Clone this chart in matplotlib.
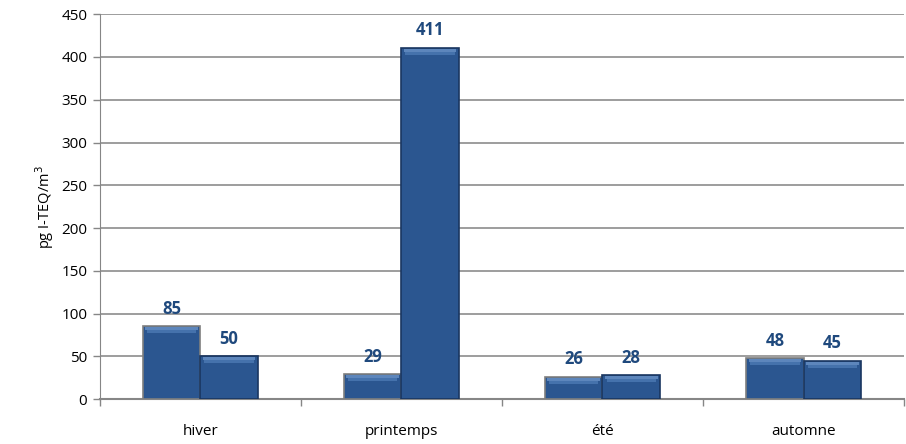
import numpy as np
import matplotlib.pyplot as plt

saisons = ["hiver", "printemps", "été", "automne"]
serie_1 = [85, 29, 26, 48]
serie_2 = [50, 411, 28, 45]

plt.rcParams['font.family'] = ['Open Sans', 'DejaVu Sans']

fig = plt.figure(figsize=(9.06, 4.44), dpi=100)
ax = fig.add_axes([0.110, 0.101, 0.888, 0.867])

x = np.arange(len(saisons))
w = 0.285
bar_col = "#2b5690"
top_col = "#6a93c8"
lab_col = "#1f497d"

# px -> data units for the bevel strips
px = 450 / 385.0

for i in range(len(saisons)):
    for k, (vals, edge) in enumerate([(serie_1, "#7f7f7f"), (serie_2, "#1a3660")]):
        v = vals[i]
        xc = x[i] - w / 2 if k == 0 else x[i] + w / 2
        ax.bar(xc, v, width=w, color=bar_col, edgecolor=edge, linewidth=1.2, zorder=3)
        # light bevel along the top
        ax.bar(xc, 3 * px, bottom=v - 4 * px, width=w * 0.92, color=top_col,
               linewidth=0, zorder=4, alpha=0.8)
        ax.bar(xc, 3 * px, bottom=v - 7 * px, width=w * 0.86, color="#4572ac",
               linewidth=0, zorder=4)
        if k == 0:
            # grey shadow under the first bar
            ax.bar(xc, 3 * px, bottom=-3 * px, width=w, color="#7f7f7f",
                   linewidth=0, zorder=2)
        ax.text(xc, v + 10, str(v), ha="center", va="bottom", fontsize=12,
                fontweight="bold", color=lab_col, zorder=5)

ax.set_xlim(-0.5, len(saisons) - 0.5)
ax.set_ylim(0, 450)
ax.set_yticks(np.arange(0, 451, 50))
ax.set_xticks(x)
ax.set_xticklabels(saisons)
ax.set_xticks(np.arange(-0.5, len(saisons), 1), minor=True)
ax.tick_params(axis="x", which="major", length=0, pad=18, labelsize=11)
ax.tick_params(axis="x", which="minor", length=5, color="#868686", width=1)
ax.tick_params(axis="y", length=5, color="#868686", width=1, labelsize=11, pad=4)
ax.yaxis.grid(True, color="#8c8c8c", linewidth=1.2, zorder=0)
ax.set_axisbelow(True)

for s in ["top", "right"]:
    ax.spines[s].set_visible(False)
ax.spines["left"].set_color("#868686")
ax.spines["bottom"].set_color("#868686")
ax.spines["bottom"].set_linewidth(1.5)

ax.set_ylabel("pg I-TEQ/m$^3$", fontsize=10.5, labelpad=4)

fig.savefig("out.png", dpi=100)
